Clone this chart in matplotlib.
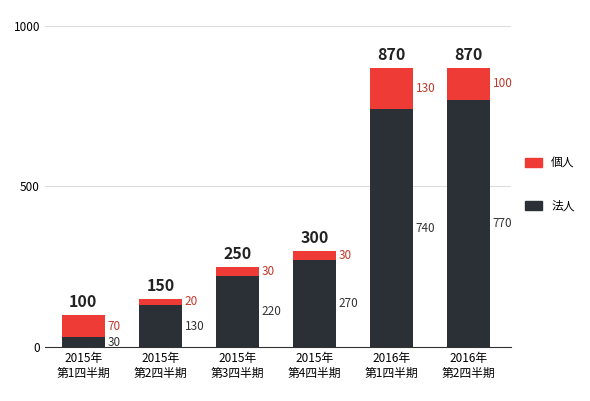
import matplotlib.pyplot as plt
import numpy as np
plt.rcParams['font.family'] = ['Noto Sans CJK JP', 'DejaVu Sans']

categories = ["2015年\n第1四半期", "2015年\n第2四半期", "2015年\n第3四半期", "2015年\n第4四半期", "2016年\n第1四半期", "2016年\n第2四半期"]
corp = [30, 130, 220, 270, 740, 770]
indiv = [70, 20, 30, 30, 130, 100]
totals = [100, 150, 250, 300, 870, 870]

dark = '#2b2f36'; red = '#ee3b35'
fig = plt.figure(figsize=(5.9, 4.01), dpi=100)
ax = fig.add_axes([0.076, 0.135, 0.79, 0.8])
x = np.arange(len(categories))
w = 0.55
ax.bar(x, corp, w, color=dark, zorder=2)
ax.bar(x, indiv, w, bottom=corp, color=red, zorder=2)
for i in x:
    ax.text(i + w/2 + 0.04, corp[i]/2, str(corp[i]), va='center', ha='left', fontsize=8.5, color='#333333')
    ax.text(i + w/2 + 0.04, corp[i] + indiv[i]/2, str(indiv[i]), va='center', ha='left', fontsize=8.5, color='#c0392b')
    ax.text(i, totals[i] + 15, str(totals[i]), ha='center', va='bottom', fontsize=11.5, fontweight='bold', color='#222222')
ax.set_ylim(0, 1000)
ax.set_xlim(-0.5, 5.55)
ax.set_yticks([0, 500, 1000])
ax.tick_params(axis='y', length=0, labelsize=8.5)
ax.tick_params(axis='x', length=0, labelsize=8.5)
ax.set_xticks(x)
ax.set_xticklabels(categories, linespacing=1.2)
ax.grid(axis='y', color='#dddddd', zorder=0)
for s in ['top', 'right', 'left']:
    ax.spines[s].set_visible(False)
ax.spines['bottom'].set_color('#333333')
from matplotlib.patches import Patch
fig.legend(handles=[Patch(color=red, label='個人'), Patch(color=dark, label='法人')],
           loc='center left', bbox_to_anchor=(0.88, 0.54), frameon=False, fontsize=8.5,
           handlelength=1.4, handleheight=0.8, labelspacing=2.5, borderpad=0)
fig.savefig('out.png', dpi=100)
